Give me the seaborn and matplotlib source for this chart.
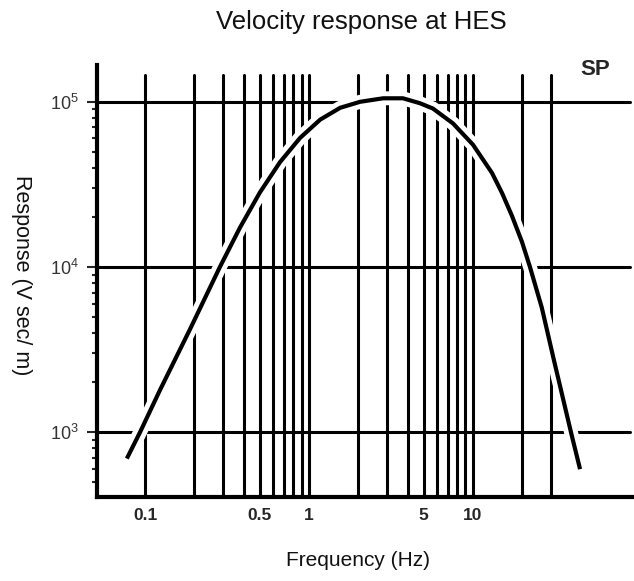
import numpy as np
import pandas as pd
import matplotlib
matplotlib.use("Agg")
import matplotlib.pyplot as plt
import matplotlib.patheffects as pe
import seaborn as sns

# ---- data ----
freq_hz = [0.0774, 0.0932, 0.123, 0.188, 0.286, 0.379, 0.502, 0.665, 0.881,
           1.17, 1.55, 2.05, 2.83, 3.74, 4.75, 5.7, 7.55, 10.0, 13.06, 15.03,
           17.29, 19.9, 22.27, 26.3, 31.2, 39.6, 45.0]
response = [692, 1000, 1790, 4200, 10000, 17300, 28300, 43100, 60400,
            78000, 92000, 100000, 105000, 105000, 98000, 91000, 74000, 55000,
            37100, 28100, 20400, 14200, 10000, 5670, 2720, 1000, 597]
grid_freqs = [0.1, 0.2, 0.3, 0.4, 0.5, 0.6, 0.7, 0.8, 0.9,
              1, 2, 3, 4, 5, 6, 7, 8, 9, 10, 20, 30]
grid_resp = [1e3, 1e4, 1e5]
xtick_vals = [0.1, 0.5, 1, 5, 10]
xtick_labels = ["0.1", "0.5", "1", "5", "10"]

df = pd.DataFrame({"freq": freq_hz, "resp": response})

sns.set_style("white")
plt.rcParams["font.family"] = ["Liberation Sans", "DejaVu Sans"]
plt.rcParams["mathtext.fontset"] = "custom"
plt.rcParams["mathtext.rm"] = "Liberation Sans"

W, H = 634, 581
fig = plt.figure(figsize=(W / 100, H / 100), dpi=100)
ax = fig.add_axes([97 / W, 1 - 497 / H, 1 - 97 / W, (497 - 65) / H])
ax.set_xscale("log")
ax.set_yscale("log")
ax.set_xlim(0.0509, 96)
ax.set_ylim(405, 1.67e5)

for g in grid_freqs:
    ax.axvline(g, ymin=0, ymax=0.977, color="black", lw=2.2, zorder=2)
for h in grid_resp:
    ax.axhline(h, xmin=0, xmax=0.993, color="black", lw=2.2, zorder=2)

sns.lineplot(data=df, x="freq", y="resp", ax=ax, color="black", lw=3,
             zorder=5, estimator=None)
line = ax.lines[-1]
line.set_solid_capstyle("butt")
line.set_solid_joinstyle("round")
line.set_path_effects([pe.Stroke(linewidth=10, foreground="white"), pe.Normal()])

for side in ["top", "right"]:
    ax.spines[side].set_visible(False)
for side in ["left", "bottom"]:
    ax.spines[side].set_linewidth(3)
    ax.spines[side].set_color("black")
    ax.spines[side].set_zorder(6)

ax.set_xticks(xtick_vals)
ax.set_xticklabels(xtick_labels, fontweight="bold", fontsize=12.5)
ax.xaxis.set_minor_locator(matplotlib.ticker.NullLocator())
ax.tick_params(axis="x", which="both", length=0, pad=8)

ax.set_yticks(grid_resp)
ax.tick_params(axis="y", which="major", direction="out", length=7, width=1.5,
               labelsize=13, pad=6, labelcolor="#333333", left=True)
ax.tick_params(axis="y", which="minor", direction="out", length=3.5, width=1.5,
               left=True)
ax.set_xlabel("")
ax.set_ylabel("")

ax.text(0.927, 0.989, "SP", transform=ax.transAxes, fontweight="bold",
        fontsize=16, ha="center", va="center")
fig.text(361 / W, 1 - 29.5 / H, "Velocity response at HES", fontsize=18.5,
         ha="center", va="baseline", color="#111111")
fig.text(21 / W, 1 - 275 / H, "Response (V sec/ m)", rotation=270,
         fontsize=15.5, ha="center", va="center", color="#111111")
fig.text(358 / W, 1 - 560 / H, "Frequency (Hz)", fontsize=15,
         ha="center", va="center", color="#111111")

fig.savefig("out.png", dpi=100)
